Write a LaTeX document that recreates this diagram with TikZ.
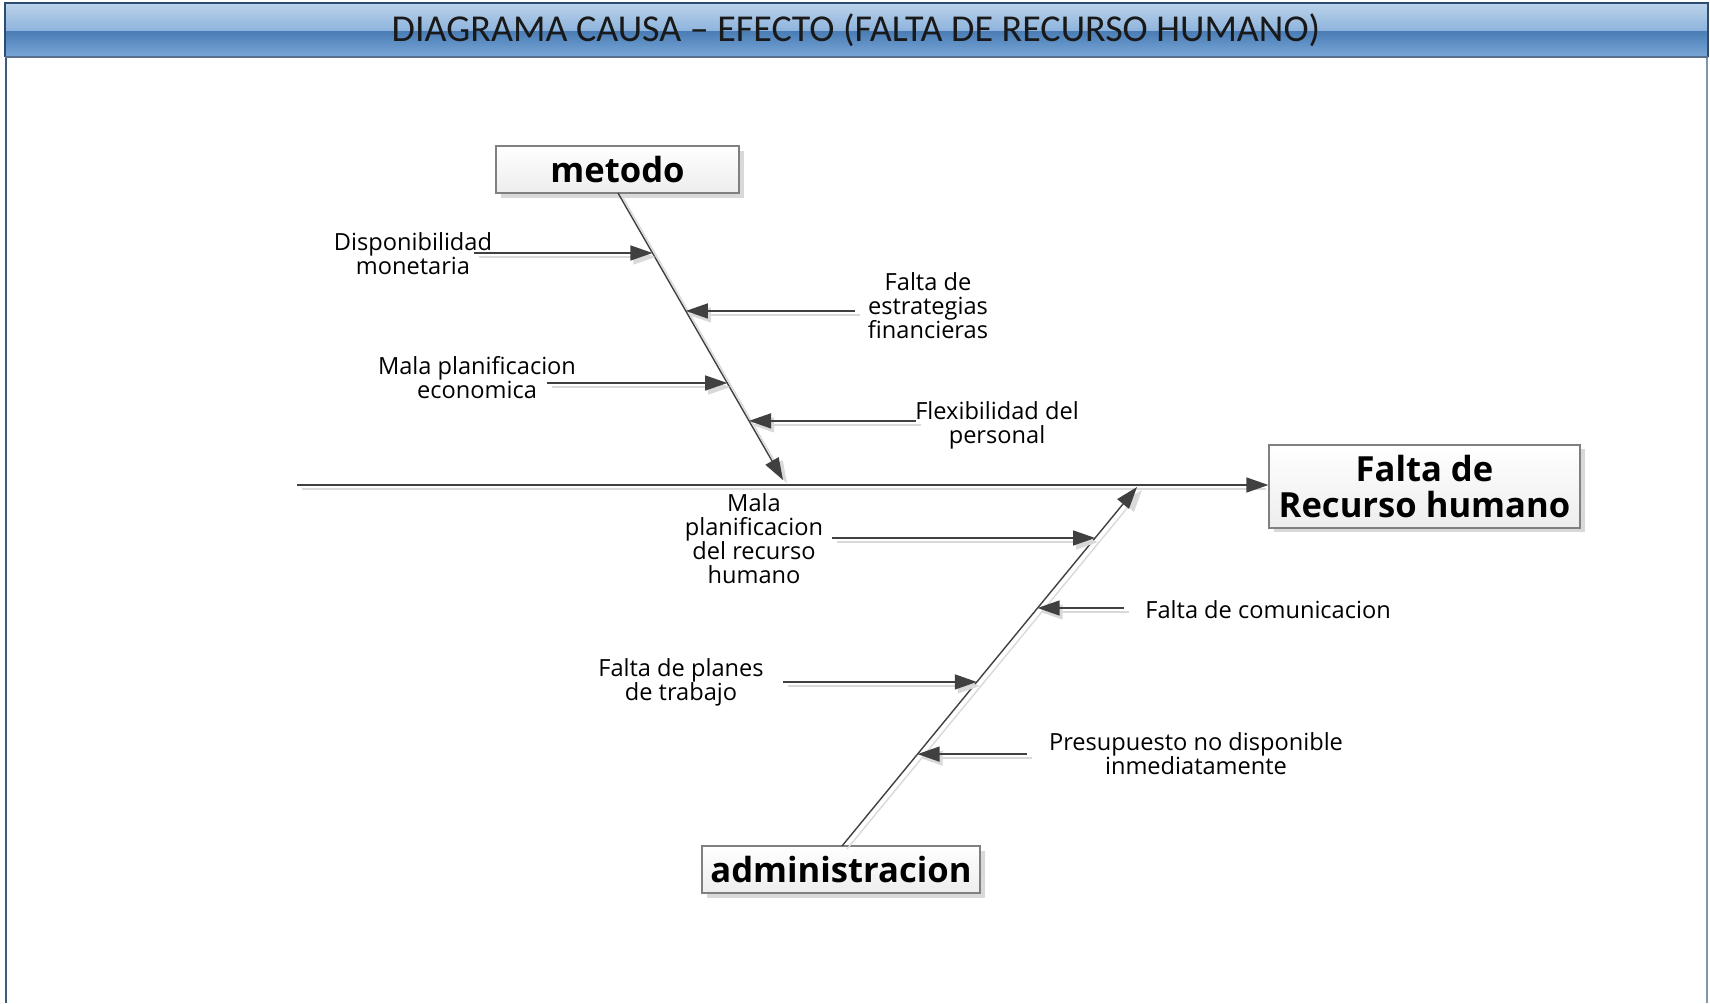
\documentclass[tikz,border=0pt]{standalone}
\usepackage{fontspec}
\setmainfont{Open Sans}
\newfontfamily\titlefont{Carlito}
\usetikzlibrary{arrows.meta,calc}

\definecolor{linegray}{HTML}{404040}
\definecolor{shadowgray}{HTML}{D9D9D9}
\definecolor{barTopA}{HTML}{BCD3EA}
\definecolor{barTopB}{HTML}{8DB3DC}
\definecolor{barBotA}{HTML}{4A7DB5}
\definecolor{barBotB}{HTML}{7AA7D7}
\definecolor{barEdge}{HTML}{2C4C72}
\definecolor{frameLeft}{HTML}{3D5A7A}
\definecolor{frameRight}{HTML}{8096AD}

\tikzset{
  bone/.style={draw=linegray, line width=0.7pt},
  cause/.style={draw=linegray, line width=0.7pt,
    -{Triangle[length=11pt,width=7.5pt]}, color=linegray},
  causeshadow/.style={draw=shadowgray, line width=0.7pt,
    -{Triangle[length=11pt,width=7.5pt]}, color=shadowgray},
  boneshadow/.style={draw=shadowgray, line width=0.7pt},
  catbox/.style={draw=gray, line width=0.6pt, top color=white, bottom color=gray!14,
    font=\bfseries\fontsize{17.3}{18}\selectfont, inner sep=0pt, align=center},
  lbl/.style={font=\fontsize{11.8}{12}\selectfont, align=center, inner sep=0pt, text=black}
}

\begin{document}
\begin{tikzpicture}[x=0.5pt, y=-0.5pt]
\useasboundingbox (0,0) rectangle (1710,1003);

% page frame and title band
\draw[frameLeft, line width=1pt] (6,57) -- (6,1003);
\draw[frameRight, line width=1.2pt] (1707,57) -- (1707,1003);
\shade[top color=barTopA, bottom color=barTopB] (5,3) rectangle (1708,31);
\shade[top color=barBotA, bottom color=barBotB] (5,31) rectangle (1708,57);
\draw[barEdge, line width=1pt] (5,57) -- (5,3) -- (1708,3) -- (1708,57);
\draw[barEdge!80, line width=0.6pt] (5,57) -- (1708,57);
\node[font=\titlefont\fontsize{19}{20}\selectfont, text=black!90] (title) at (856,30)
  {DIAGRAMA CAUSA – EFECTO (FALTA DE RECURSO HUMANO)};

% box shadows
\fill[shadowgray] (501,151) rectangle (744,198);
\fill[shadowgray] (1274,449) rectangle (1585,532);
\fill[shadowgray] (707,851) rectangle (985,898);

% category and effect boxes
\node[catbox, minimum width=121.5pt, minimum height=23.5pt] (metodo) at (617.5,169.5) {metodo};
\node[catbox, minimum width=155.5pt, minimum height=41.5pt] (efecto) at (1424.5,486.5)
  {Falta de\\Recurso humano};
\node[catbox, minimum width=139pt, minimum height=23.5pt] (admin) at (841,869.5) {administracion};

% bone end points
\coordinate (mtop) at (618,193);
\coordinate (mtip) at (783,480);
\coordinate (atop) at (842,846);
\coordinate (atip) at (1137,487);
\coordinate (spineL) at (297,485);

% shadows of spine and bones
\draw[boneshadow] ($(spineL)+(5,4)$) -- ($(efecto.west|-spineL)+(-2,4)$);
\draw[causeshadow] ($(mtop)+(4,3)$) -- ($(mtip)+(4,3)$);
\draw[causeshadow] ($(atop)+(5,3)$) -- ($(atip)+(5,3)$);

% spine and bones
\draw[cause] (spineL) -- (efecto.west|-spineL);
\draw[cause] (mtop) -- (mtip);
\draw[cause] (atop) -- (atip);

% points where the causes meet the bones
\coordinate (m1) at ($(mtop)!0.209!(mtip)$);
\coordinate (m2) at ($(mtop)!0.411!(mtip)$);
\coordinate (m3) at ($(mtop)!0.662!(mtip)$);
\coordinate (m4) at ($(mtop)!0.794!(mtip)$);
\coordinate (a1) at ($(atop)!0.858!(atip)$);
\coordinate (a2) at ($(atop)!0.663!(atip)$);
\coordinate (a3) at ($(atop)!0.457!(atip)$);
\coordinate (a4) at ($(atop)!0.256!(atip)$);

% free ends of the cause arrows
\coordinate (s1) at (474,0);
\coordinate (s2) at (855,0);
\coordinate (s3) at (547,0);
\coordinate (s4) at (916,0);
\coordinate (s5) at (832,0);
\coordinate (s6) at (1124,0);
\coordinate (s7) at (783,0);
\coordinate (s8) at (1027,0);

% cause labels
\node[lbl] (l1) at (413,254) {Disponibilidad\\monetaria};
\node[lbl] (l2) at (928,306) {Falta de\\estrategias\\financieras};
\node[lbl] (l3) at (477,378) {Mala planificacion\\economica};
\node[lbl] (l4) at (997,425) {Flexibilidad del\\personal};
\node[lbl] (l5) at (754,539) {Mala\\planificacion\\del recurso\\humano};
\node[lbl, anchor=west] (l6) at (1145,610) {Falta de comunicacion};
\node[lbl] (l7) at (681,682) {Falta de planes\\de trabajo};
\node[lbl] (l8) at (1196,754) {Presupuesto no disponible\\inmediatamente};

% cause arrow shadows
\foreach \s/\t in {s1/m1,s2/m2,s3/m3,s4/m4,s5/a1,s6/a2,s7/a3,s8/a4}
  \draw[causeshadow] ($(\s|-\t)+(5,4)$) -- ($(\t)+(3,4)$);

% cause arrows
\draw[cause] (s1|-m1) -- (m1);
\draw[cause] (s2|-m2) -- (m2);
\draw[cause] (s3|-m3) -- (m3);
\draw[cause] (s4|-m4) -- (m4);
\draw[cause] (s5|-a1) -- (a1);
\draw[cause] (s6|-a2) -- (a2);
\draw[cause] (s7|-a3) -- (a3);
\draw[cause] (s8|-a4) -- (a4);
\end{tikzpicture}
\end{document}
